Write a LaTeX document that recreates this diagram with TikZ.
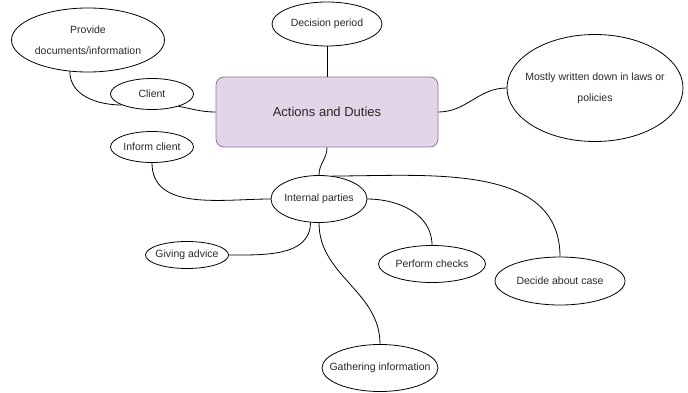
\documentclass[tikz,border=0pt]{standalone}
\usepackage{fontspec}
\setmainfont{Liberation Sans}
\usetikzlibrary{shapes.geometric}
\definecolor{mainfill}{RGB}{225,213,231}
\definecolor{maindraw}{RGB}{150,115,166}
\definecolor{textgrey}{RGB}{40,40,40}
\tikzstyle{topic}=[ellipse,draw=black,line width=0.8pt,inner xsep=-20pt,inner ysep=0pt,text=textgrey,font=\fontsize{10.5}{21}\selectfont,align=center]
\tikzstyle{mainbox}=[rectangle,rounded corners=8pt,draw=maindraw,fill=mainfill,line width=0.8pt,minimum width=222pt,minimum height=70pt,text=textgrey,font=\fontsize{13}{15}\selectfont]
\tikzstyle{link}=[draw=black,line width=0.8pt]

\begin{document}
\begin{tikzpicture}[x=1pt,y=-1pt]
  \useasboundingbox (0,0) rectangle (688,393);

  \node[mainbox] (main) at (327,112) {Actions and Duties};
  \node[topic,minimum width=110pt,minimum height=44pt] (decision) at (327,24) {Decision period};
  \node[topic,minimum width=153pt,minimum height=64pt] (provide) at (88,40) {Provide\\documents/information};
  \node[topic,minimum width=83pt,minimum height=31pt] (client) at (152,94) {Client};
  \node[topic,minimum width=176pt,minimum height=107pt] (mostly) at (595,88) {Mostly written down in laws or\\policies};
  \node[topic,minimum width=83pt,minimum height=31pt] (inform) at (152,147) {Inform client};
  \node[topic,minimum width=96pt,minimum height=47pt] (internal) at (319,199) {Internal parties};
  \node[topic,minimum width=83pt,minimum height=27pt] (advice) at (187,255) {Giving advice};
  \node[topic,minimum width=107pt,minimum height=37pt] (checks) at (432,264) {Perform checks};
  \node[topic,minimum width=130pt,minimum height=48pt] (decide) at (560,281) {Decide about case};
  \node[topic,minimum width=116pt,minimum height=47pt] (gather) at (380,368) {Gathering information};

  \draw[link] (provide.240) to[out=-90,in=180] (client.200);
  \draw[link] (client.-25) to[out=-10,in=180] (main.west);
  \draw[link] (decision.south) -- (main.north);
  \draw[link] (main.east) to[out=0,in=180] (mostly.west);
  \draw[link] (main.south) to[out=-90,in=90] (internal.north);
  \draw[link] (internal.west) to[out=180,in=-90] (inform.south);
  \draw[link] (internal.-110) to[out=-90,in=0] (advice.east);
  \draw[link] (internal.east) to[out=0,in=90] (checks.north);
  \draw[link] (internal.60) to[out=0,in=90] (decide.north);
  \draw[link] (internal.-90) to[out=-90,in=90] (gather.north);

  \end{tikzpicture}
\end{document}
